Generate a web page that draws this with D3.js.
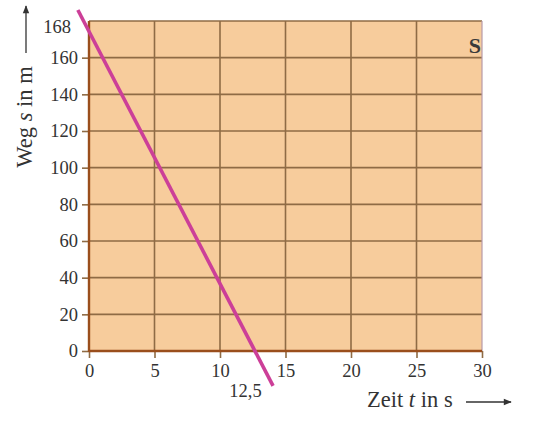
<!DOCTYPE html>
<html>
<head>
<meta charset="utf-8">
<script src="https://cdn.jsdelivr.net/npm/d3@7"></script>
<style>
  body { margin: 0; background: #fff; }
  svg text { font-family: "Liberation Serif", "DejaVu Serif", serif; fill: #333; }
</style>
</head>
<body>
<div class="container"></div>
<script>
var width = 533,
    height = 431;

// axis values
var xTicks = [0, 5, 10, 15, 20, 25, 30];
var yTicks = [0, 20, 40, 60, 80, 100, 120, 140, 160];
var yTop = 180;
var topLabel = '168';
var rootLabel = '12,5';

// the line as drawn (ends run past the frame)
var lineT = [-0.85, 14.05];
var lineS = [186, -19];

var margin = {left: 89, top: 21, right: 51, bottom: 80};

var x = d3.scaleLinear().domain([0, 30]).range([margin.left, width - margin.right]);
var y = d3.scaleLinear().domain([0, yTop]).range([height - margin.bottom, margin.top]);

var svg = d3.select('.container').append('svg')
    .attr('width', width)
    .attr('height', height);

var grid = '#8f6b45',
    axisCol = '#9a4e1c',
    serif = '"Liberation Serif", "DejaVu Serif", serif';

// paper
svg.append('rect')
    .attr('x', x(0)).attr('y', y(yTop))
    .attr('width', x(30) - x(0)).attr('height', y(0) - y(yTop))
    .attr('fill', '#f7cc9c');

// grid
svg.append('g').selectAll('line')
    .data(yTicks.slice(1).concat([yTop]))
    .enter().append('line')
    .attr('x1', x(0)).attr('x2', x(30))
    .attr('y1', (d) => y(d)).attr('y2', (d) => y(d))
    .attr('stroke', grid).attr('stroke-width', 1.6);

svg.append('g').selectAll('line')
    .data(xTicks.slice(1, -1))
    .enter().append('line')
    .attr('x1', (d) => x(d)).attr('x2', (d) => x(d))
    .attr('y1', y(0)).attr('y2', y(yTop))
    .attr('stroke', grid).attr('stroke-width', 1.6);

// right border, light
svg.append('line')
    .attr('x1', x(30)).attr('x2', x(30))
    .attr('y1', y(0)).attr('y2', y(yTop))
    .attr('stroke', '#b89aa8').attr('stroke-width', 1.2);

// axes
var xAxis = d3.axisBottom(x).tickValues(xTicks).tickSize(7).tickPadding(6);
var yAxis = d3.axisLeft(y).tickValues(yTicks).tickSize(7).tickPadding(4);

var gx = svg.append('g')
    .attr('transform', 'translate(0,' + y(0) + ')')
    .call(xAxis);
var gy = svg.append('g')
    .attr('transform', 'translate(' + x(0) + ',0)')
    .call(yAxis);

[gx, gy].forEach((g) => {
    g.attr('font-family', serif).attr('font-size', 18.5);
    g.select('.domain').remove();
    g.selectAll('.tick line').attr('stroke', grid).attr('stroke-width', 1.6);
    g.selectAll('.tick text').attr('fill', '#333');
});

svg.append('line')
    .attr('x1', x(0)).attr('x2', x(30))
    .attr('y1', y(0)).attr('y2', y(0))
    .attr('stroke', axisCol).attr('stroke-width', 2.4);
svg.append('line')
    .attr('x1', x(0)).attr('x2', x(0))
    .attr('y1', y(0) + 1).attr('y2', y(yTop))
    .attr('stroke', axisCol).attr('stroke-width', 2.4);

// 168 at the top of the s axis
svg.append('text')
    .attr('x', x(0) - 18).attr('y', y(177))
    .attr('dy', '0.35em')
    .attr('text-anchor', 'end')
    .attr('font-size', 18.5)
    .text(topLabel);

// S marker
svg.append('text')
    .attr('x', x(30) - 1).attr('y', y(162.5))
    .attr('text-anchor', 'end')
    .attr('font-size', 22)
    .attr('font-weight', 'bold')
    .style('fill', '#3a3a3a')
    .text('S');

// the line
var pts = lineT.map((t, i) => [t, lineS[i]]);
svg.append('path')
    .datum(pts)
    .attr('d', d3.line().x((d) => x(d[0])).y((d) => y(d[1])))
    .attr('stroke', '#cc3f98')
    .attr('stroke-width', 3.6)
    .attr('fill', 'none');

// 12,5 under the crossing
svg.append('text')
    .attr('x', x(11.95)).attr('y', y(0) + 46)
    .attr('text-anchor', 'middle')
    .attr('font-size', 18.5)
    .text(rootLabel);

// axis titles with arrows
var xl = svg.append('text')
    .attr('x', 367).attr('y', 407)
    .attr('font-size', 22.5);
xl.append('tspan').text('Zeit ');
xl.append('tspan').style('font-style', 'italic').text('t');
xl.append('tspan').text(' in s');

var yl = svg.append('text')
    .attr('transform', 'translate(32,117) rotate(-90)')
    .attr('text-anchor', 'middle')
    .attr('font-size', 22.5);
yl.append('tspan').text('Weg ');
yl.append('tspan').style('font-style', 'italic').text('s');
yl.append('tspan').text(' in m');

svg.append('defs').append('marker')
    .attr('id', 'arr')
    .attr('viewBox', '0 0 10 10')
    .attr('refX', 9).attr('refY', 5)
    .attr('markerWidth', 11).attr('markerHeight', 8)
    .attr('markerUnits', 'userSpaceOnUse')
    .attr('orient', 'auto')
    .append('path')
    .attr('d', 'M0,1 L10,5 L0,9 Z')
    .attr('fill', '#333');

svg.append('line')
    .attr('x1', 466).attr('x2', 511)
    .attr('y1', 402).attr('y2', 402)
    .attr('stroke', '#333').attr('stroke-width', 1.3)
    .attr('marker-end', 'url(#arr)');
svg.append('line')
    .attr('x1', 26).attr('x2', 26)
    .attr('y1', 53).attr('y2', 6)
    .attr('stroke', '#333').attr('stroke-width', 1.3)
    .attr('marker-end', 'url(#arr)');
</script>
</body>
</html>
